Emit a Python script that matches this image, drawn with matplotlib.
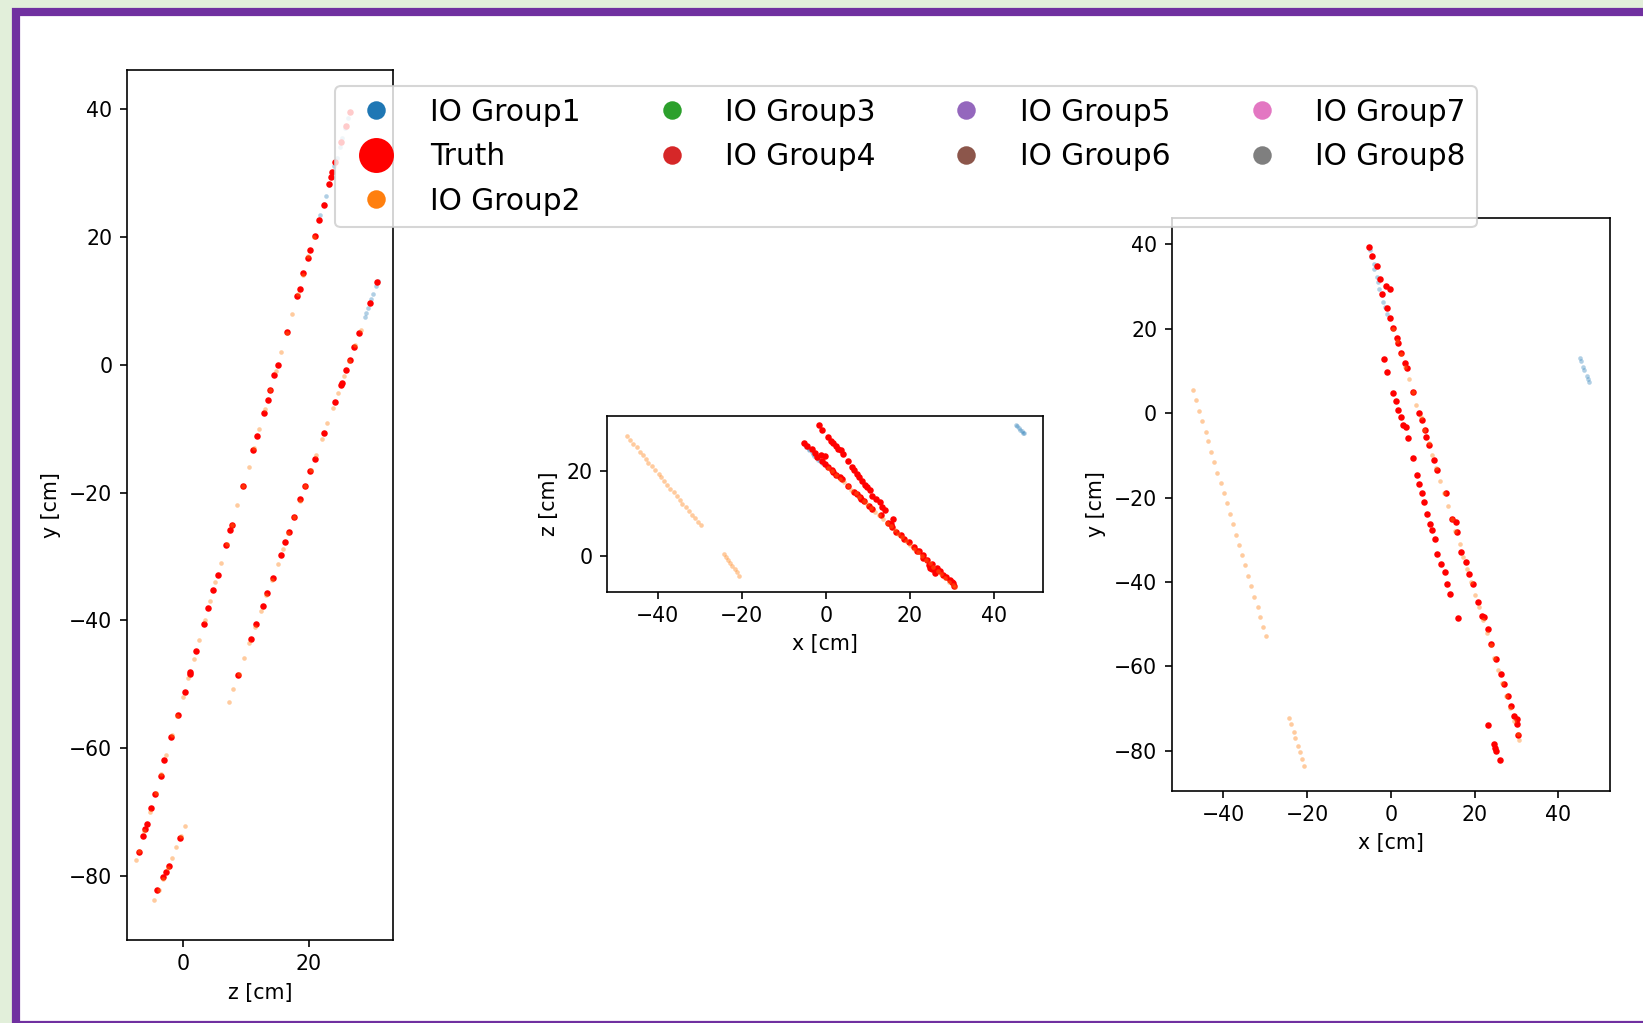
import matplotlib
matplotlib.use("Agg")
import matplotlib.pyplot as plt
from matplotlib.lines import Line2D
from matplotlib.patches import Rectangle

# truth points (x, y, z) in cm
truth_x = [-5.2, -4.4, -3.3, -2.5, -1.2, -0.2, -2.0, -0.8, -0.2, 0.6, 1.4, 1.7, 2.4, 3.3, 3.8,
           5.2, 6.7, 7.5, 8.1, 8.3, 9.1, 10.3, 11.0, 13.1, 14.7, 15.5, 15.7, 16.8, 17.9, 18.6,
           19.7, 20.9, 21.8, 22.2, 23.2, 24.0, 25.2, 26.4, 27.1, 27.9, 28.7, 29.5, 30.0, 30.2, 30.4,
           -1.6, -0.8, 0.6, 1.2, 1.7, 2.5, 3.0, 3.6, 4.0, 5.2, 6.2, 6.7, 7.5, 7.9, 8.7,
           9.4, 9.9, 10.5, 11.1, 11.9, 12.9, 13.4, 14.1, 16.0,
           23.2, 24.6, 24.9, 25.2, 26.0]
truth_y = [39.5, 37.3, 34.9, 31.7, 30.1, 29.4, 28.2, 25.0, 22.6, 20.2, 17.9, 16.7, 14.3, 11.9, 10.7,
           5.1, 0.0, -1.6, -4.0, -5.6, -7.5, -11.1, -13.4, -19.0, -25.0, -25.8, -28.2, -32.9, -35.3, -38.1,
           -40.5, -44.8, -48.0, -48.4, -51.2, -54.8, -58.3, -61.9, -64.3, -67.1, -69.4, -71.8, -72.6, -73.8, -76.2,
           12.9, 9.7, 4.9, 2.8, 0.8, -0.8, -2.8, -3.2, -5.9, -10.7, -14.7, -16.7, -19.0, -21.0, -23.8,
           -26.2, -27.8, -29.8, -33.3, -35.7, -37.7, -40.5, -42.9, -48.6,
           -74.0, -78.4, -79.3, -80.2, -82.2]
truth_z = [26.5, 25.8, 25.1, 24.2, 23.7, 23.5, 23.2, 22.3, 21.6, 20.9, 20.2, 19.8, 19.1, 18.5, 18.1,
           16.5, 15.0, 14.5, 13.8, 13.4, 12.8, 11.8, 11.1, 9.5, 7.8, 7.5, 6.8, 5.5, 4.8, 4.0,
           3.3, 2.0, 1.1, 1.0, 0.2, -0.9, -1.9, -3.0, -3.6, -4.5, -5.1, -5.8, -6.1, -6.4, -7.1,
           30.8, 29.7, 28.0, 27.2, 26.5, 25.9, 25.2, 25.0, 24.1, 22.3, 20.9, 20.2, 19.4, 18.6, 17.6,
           16.8, 16.2, 15.5, 14.2, 13.3, 12.6, 11.6, 10.8, 8.7,
           -0.5, -2.3, -2.8, -3.2, -4.2]

# IO Group1 hits
g1_x = [-5.0, -4.7, -4.1, -3.9, -3.3, -3.0, -2.7, -2.1, -1.9, -1.3, -1.0,
        45.2, 45.5, 45.9, 46.2, 46.7, 47.0, 47.2]
g1_y = [38.6, 37.0, 35.4, 34.1, 32.4, 31.1, 29.4, 28.1, 26.4, 25.1, 23.4,
        13.1, 12.3, 11.0, 10.2, 8.9, 8.1, 7.5]
g1_z = [26.2, 25.7, 25.3, 24.9, 24.4, 24.0, 23.6, 23.1, 22.7, 22.3, 21.8,
        30.9, 30.6, 30.2, 29.8, 29.4, 29.0, 28.9]

# IO Group2 hits
g2_x = [-47.2, -46.5, -45.8, -45.0, -44.1, -43.6, -42.8, -42.2, -41.4, -40.6, -39.8, -39.2, -38.4,
        -37.7, -37.0, -36.2, -35.5, -34.8, -34.1, -33.3, -32.6, -31.8, -31.1, -30.4, -29.8,
        -24.2, -23.7, -23.2, -22.8, -22.2, -21.6, -21.1, -20.6,
        0.6, 1.5, 2.5, 3.4, 4.4, 5.2, 6.1, 7.1, 8.0, 9.0, 9.8, 10.8, 11.7, 12.7, 13.6, 14.5, 15.4,
        16.4, 17.2, 18.2, 19.1, 20.1, 21.0, 21.9, 22.9, 23.8, 24.7, 25.6, 26.6, 27.5, 28.4, 29.3,
        30.3, 30.7]
g2_y = [5.5, 3.1, 0.6, -1.8, -4.4, -6.7, -9.2, -11.6, -14.1, -16.5, -19.0, -21.4, -23.9,
        -26.3, -28.8, -31.2, -33.7, -36.1, -38.6, -41.0, -43.5, -45.9, -48.4, -50.7, -52.8,
        -72.2, -73.8, -75.5, -77.1, -78.8, -80.4, -82.1, -83.7,
        20.0, 17.0, 14.0, 11.0, 8.0, 5.0, 2.0, -1.0, -4.0, -7.0, -10.0, -13.0, -16.0, -19.0, -22.0,
        -25.0, -28.0, -31.0, -34.0, -37.0, -40.0, -43.0, -46.0, -49.0, -52.0, -55.0, -58.0, -61.0,
        -64.0, -67.0, -70.0, -73.0, -76.0, -77.5]
g2_z = [28.2, 27.3, 26.4, 25.6, 24.6, 23.8, 22.9, 22.0, 21.1, 20.3, 19.4, 18.5, 17.6,
        16.7, 15.8, 15.0, 14.1, 13.2, 12.3, 11.4, 10.5, 9.7, 8.8, 7.9, 7.2,
        0.3, -0.4, -1.1, -1.8, -2.5, -3.2, -3.9, -4.7,
        20.8, 19.9, 19.1, 18.2, 17.3, 16.5, 15.6, 14.7, 13.8, 13.0, 12.1, 11.2, 10.4, 9.5, 8.6,
        7.8, 6.9, 6.0, 5.1, 4.3, 3.4, 2.5, 1.7, 0.8, -0.1, -1.0, -1.8, -2.7, -3.6, -4.4, -5.3,
        -6.2, -7.0, -7.5]

group_labels = ["IO Group1", "Truth", "IO Group2", "IO Group3", "IO Group4",
                "IO Group5", "IO Group6", "IO Group7", "IO Group8"]
group_colors = ["C0", "red", "C1", "C2", "C3", "C4", "C5", "C6", "C7"]

DPI = 148
fig = plt.figure(figsize=(1643 / DPI, 1023 / DPI), dpi=DPI, facecolor="#e2efda")

# white sheet with purple frame
fig.add_artist(Rectangle((16 / 1643, -2 / 1023), 1650 / 1643, 1 - 10 / 1023,
                         transform=fig.transFigure, facecolor="white",
                         edgecolor="#7030a0", linewidth=4.0, zorder=-10))

ax_zy = fig.add_axes([0.0771, 0.0811, 0.1623, 0.8505])
ax_xz = fig.add_axes([0.3696, 0.4216, 0.2650, 0.1718])
ax_xy = fig.add_axes([0.7131, 0.2271, 0.2668, 0.5595])

views = [(ax_zy, "z", "y"), (ax_xz, "x", "z"), (ax_xy, "x", "y")]
coords1 = {"x": g1_x, "y": g1_y, "z": g1_z}
coords2 = {"x": g2_x, "y": g2_y, "z": g2_z}
coordst = {"x": truth_x, "y": truth_y, "z": truth_z}

for ax, h, v in views:
    ax.scatter(coords1[h], coords1[v], s=5, color="C0", alpha=0.35, linewidths=0)
    ax.scatter(coordst[h], coordst[v], s=10, color="red", linewidths=0)
    ax.scatter(coords2[h], coords2[v], s=5, color="C1", alpha=0.4, linewidths=0)
    ax.set_xlabel(h + " [cm]")
    ax.set_ylabel(v + " [cm]")

ax_zy.set_xlim(-9.0, 33.4)
ax_zy.set_ylim(-90.0, 46.1)
ax_zy.set_xticks([0, 20])
ax_zy.set_yticks([-80, -60, -40, -20, 0, 20, 40])

ax_xz.set_xlim(-52.0, 51.6)
ax_xz.set_ylim(-8.5, 33.0)
ax_xz.set_xticks([-40, -20, 0, 20, 40])
ax_xz.set_yticks([0, 20])

ax_xy.set_xlim(-52.3, 52.3)
ax_xy.set_ylim(-89.5, 46.2)
ax_xy.set_xticks([-40, -20, 0, 20, 40])
ax_xy.set_yticks([-80, -60, -40, -20, 0, 20, 40])

handles = []
for lab, col in zip(group_labels, group_colors):
    ms = 17 if lab == "Truth" else 9
    handles.append(Line2D([], [], linestyle="", marker="o", markersize=ms,
                          markerfacecolor=col, markeredgewidth=0))
fig.legend(handles, group_labels, loc="upper left", bbox_to_anchor=(335 / 1643, 1 - 86 / 1023),
           ncol=4, fontsize=14.4, borderaxespad=0, columnspacing=2.08, labelspacing=0.52)

fig.savefig("out.png", dpi=DPI, facecolor=fig.get_facecolor())
